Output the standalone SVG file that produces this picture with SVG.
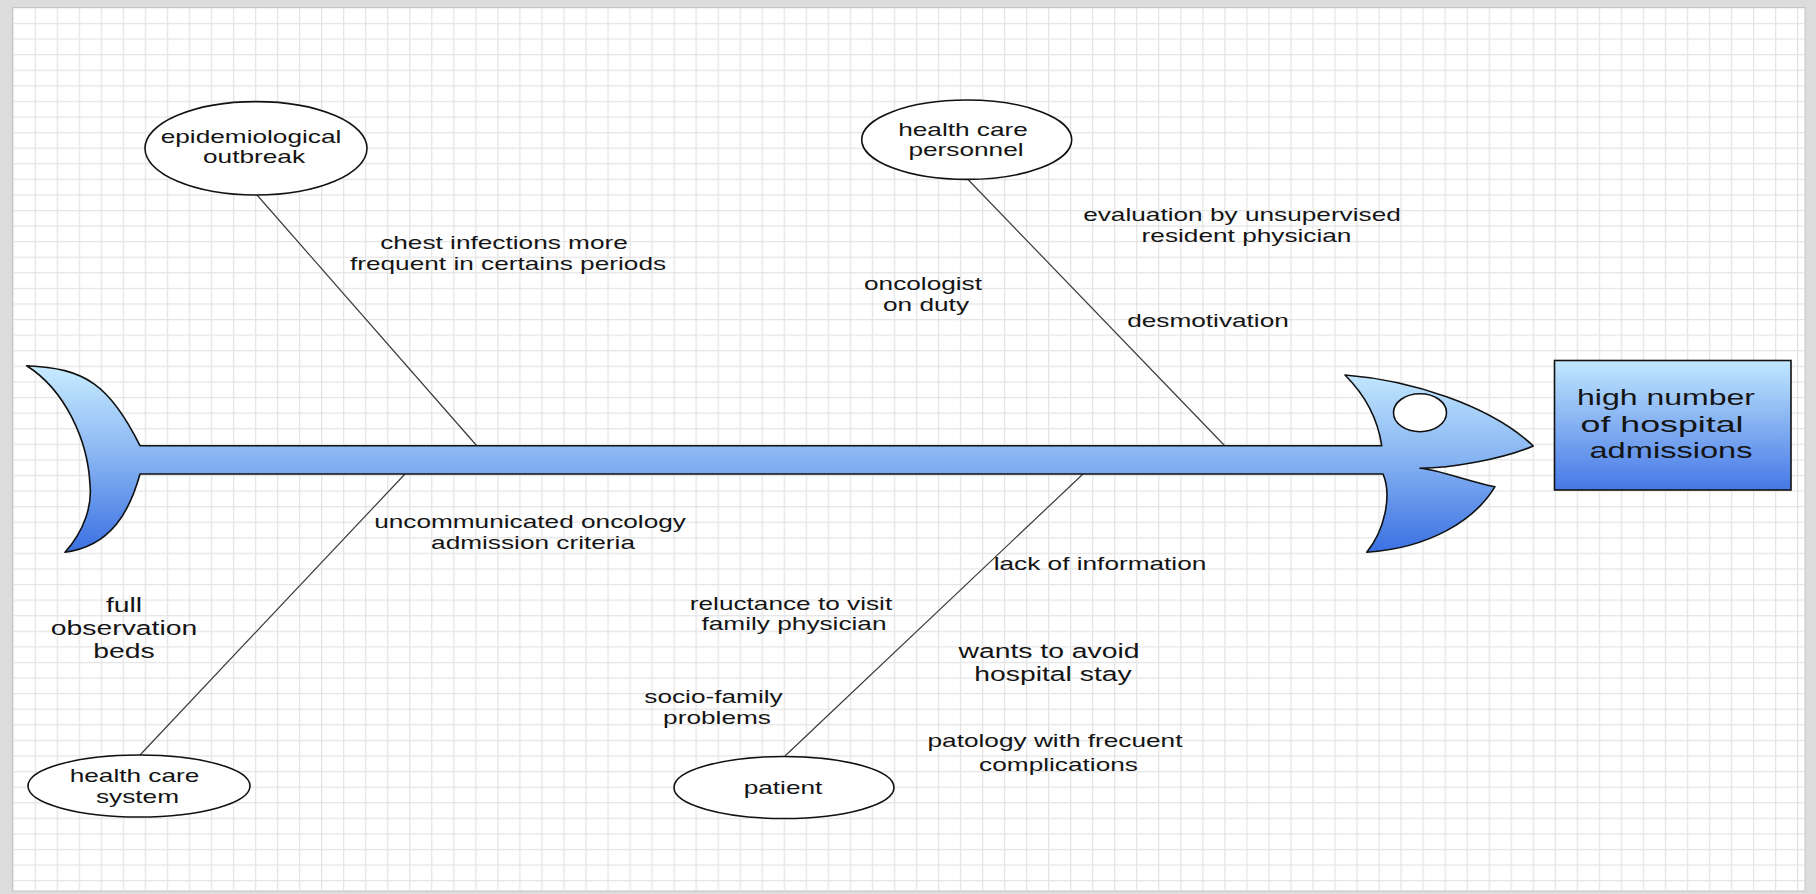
<svg xmlns="http://www.w3.org/2000/svg" width="1816" height="894" viewBox="0 0 1816 894">
<defs>
<pattern id="grid" patternUnits="userSpaceOnUse" x="12.6" y="7.3" width="22.03" height="15.585">
<path d="M0,0.6 H22.03 M0.6,0 V15.585" stroke="#e4e4e4" stroke-width="1.3" fill="none"/>
</pattern>
<linearGradient id="fishGrad" gradientUnits="userSpaceOnUse" x1="0" y1="365" x2="0" y2="553">
<stop offset="0" stop-color="#c8ecff"/>
<stop offset="0.5" stop-color="#86b3f2"/>
<stop offset="1" stop-color="#3a70e2"/>
</linearGradient>
<linearGradient id="boxGrad" gradientUnits="userSpaceOnUse" x1="0" y1="360" x2="0" y2="490">
<stop offset="0" stop-color="#c2e8fe"/>
<stop offset="1" stop-color="#4578e6"/>
</linearGradient>
<style>
.t{font-family:"Liberation Sans",Arial,sans-serif;font-size:18.6px;fill:#141414;text-anchor:middle}
.tl{font-family:"Liberation Sans",Arial,sans-serif;font-size:20.1px;fill:#141414;text-anchor:middle}
.tb{font-family:"Liberation Sans",Arial,sans-serif;font-size:22.7px;fill:#141414;text-anchor:middle}
.node{fill:#ffffff;stroke:#111;stroke-width:1.6}
.conn{stroke:#3a3a3a;stroke-width:1.2;fill:none}
</style>
</defs>
<rect x="0" y="0" width="1816" height="894" fill="#dcdcdc"/>
<rect x="12.5" y="7.5" width="1792.5" height="883.5" fill="#ffffff" stroke="#c4c4c4" stroke-width="1"/>
<rect x="13" y="8" width="1791.5" height="882.5" fill="url(#grid)"/>

<g id="connectors">
<line class="conn" x1="257" y1="195" x2="477" y2="446"/>
<line class="conn" x1="968" y1="179.5" x2="1225" y2="446"/>
<line class="conn" x1="405" y1="474" x2="140" y2="755"/>
<line class="conn" x1="1083" y1="474" x2="785" y2="756"/>
</g>

<g id="fish">
<path d="M26.7,365.7 C85,368 110,385 140,445.7 L1381.7,445.7 C1378,420 1365,395 1345,375 C1410,380 1490,405 1533.3,446 C1500,460 1450,468 1420,468.3 C1440,470 1470,482 1495,486.7 C1475,520 1430,548 1366.7,552.3 C1385,530 1392,495 1383,474 L140,474 C130,510 112,546 65,552.3 C85,530 92,505 90,485 C88,440 65,390 26.7,365.7 Z" fill="url(#fishGrad)" stroke="#111" stroke-width="1.6" stroke-linejoin="round"/>
<ellipse cx="1420" cy="412.7" rx="26.5" ry="19" fill="#ffffff" stroke="#111" stroke-width="1.6"/>
</g>

<g id="effect">
<rect x="1554.5" y="360.5" width="236.5" height="129.5" fill="url(#boxGrad)" stroke="#111" stroke-width="1.6"/>
<text class="tb" x="1666" y="405" textLength="178" lengthAdjust="spacingAndGlyphs">high number</text>
<text class="tb" x="1662" y="431.7" textLength="163" lengthAdjust="spacingAndGlyphs">of hospital</text>
<text class="tb" x="1671" y="458.3" textLength="163" lengthAdjust="spacingAndGlyphs">admissions</text>
</g>

<g id="epidemiological-outbreak">
<ellipse class="node" cx="256" cy="148.3" rx="111" ry="46.7"/>
<text class="t" transform="translate(251,143.3) scale(1.41,1)">epidemiological</text>
<text class="t" transform="translate(254,163.3) scale(1.41,1)">outbreak</text>
</g>

<g id="health-care-personnel">
<ellipse class="node" cx="966.7" cy="139.7" rx="105" ry="39.7"/>
<text class="t" transform="translate(963,135.7) scale(1.41,1)">health care</text>
<text class="t" transform="translate(966,155.7) scale(1.41,1)">personnel</text>
</g>

<g id="health-care-system">
<ellipse class="node" cx="139" cy="786" rx="111" ry="31"/>
<text class="t" transform="translate(134.5,781.7) scale(1.41,1)">health care</text>
<text class="t" transform="translate(137.5,802.7) scale(1.41,1)">system</text>
</g>

<g id="patient">
<ellipse class="node" cx="784" cy="787.5" rx="110" ry="31"/>
<text class="t" transform="translate(783,793.5) scale(1.41,1)">patient</text>
</g>

<g id="causes">
<text class="t" transform="translate(504,249.3) scale(1.41,1)">chest infections more</text>
<text class="t" transform="translate(508,270) scale(1.41,1)">frequent in certains periods</text>
<text class="t" transform="translate(923,290) scale(1.41,1)">oncologist</text>
<text class="t" transform="translate(926,310.7) scale(1.41,1)">on duty</text>
<text class="t" transform="translate(1242,220.7) scale(1.41,1)">evaluation by unsupervised</text>
<text class="t" transform="translate(1246.5,241.7) scale(1.41,1)">resident physician</text>
<text class="t" transform="translate(1208,327.3) scale(1.41,1)">desmotivation</text>
<text class="t" transform="translate(530,528.3) scale(1.41,1)">uncommunicated oncology</text>
<text class="t" transform="translate(533,548.7) scale(1.41,1)">admission criteria</text>
<text class="tl" transform="translate(124,612) scale(1.41,1)">full</text>
<text class="tl" transform="translate(124,635) scale(1.41,1)">observation</text>
<text class="tl" transform="translate(124,657.5) scale(1.41,1)">beds</text>
<text class="t" transform="translate(1100,570) scale(1.41,1)">lack of information</text>
<text class="t" transform="translate(791,609.5) scale(1.41,1)">reluctance to visit</text>
<text class="t" transform="translate(794,630) scale(1.41,1)">family physician</text>
<text class="tl" transform="translate(1049,658) scale(1.41,1)">wants to avoid</text>
<text class="tl" transform="translate(1053,681) scale(1.41,1)">hospital stay</text>
<text class="t" transform="translate(713.5,703) scale(1.41,1)">socio-family</text>
<text class="t" transform="translate(717,724) scale(1.41,1)">problems</text>
<text class="t" transform="translate(1055,747) scale(1.41,1)">patology with frecuent</text>
<text class="t" transform="translate(1058.5,770.5) scale(1.41,1)">complications</text>
</g>
</svg>
